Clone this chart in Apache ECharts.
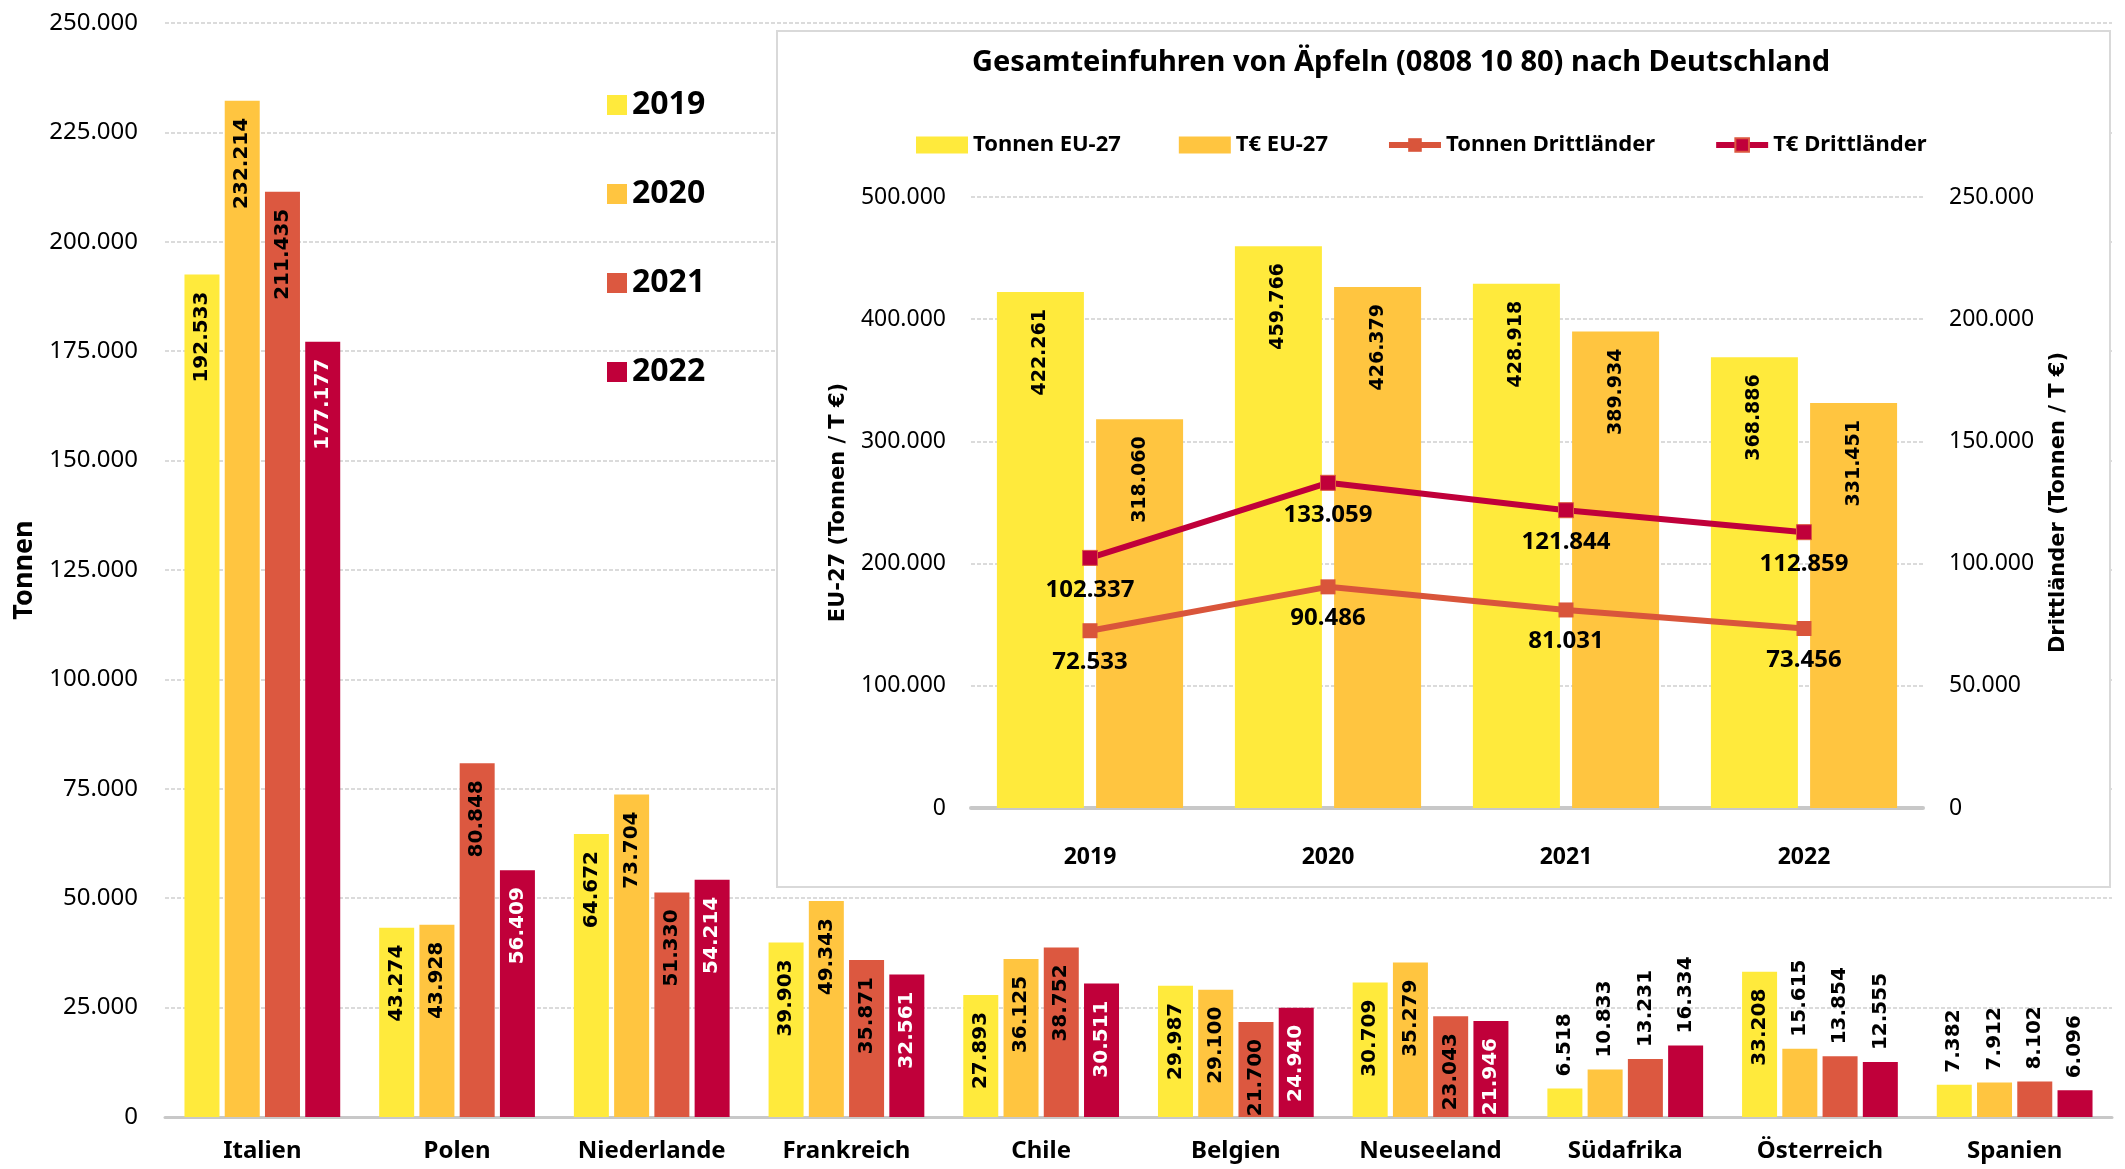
<!DOCTYPE html>
<html lang="de">
<head>
<meta charset="UTF-8">
<title>Einfuhren Äpfel</title>
<script src="https://cdn.jsdelivr.net/npm/echarts@6/dist/echarts.min.js"></script>
<style type="text/css">
    body { margin: 0; background: #fff; }
    #main { position: absolute; left: 0; top: 0; width: 2125px; height: 1169px; }
    #inset {
        position: absolute; left: 776px; top: 30px; width: 1331px; height: 854px;
        background: #fff; border: 2px solid #d9d9d9;
    }
</style>
</head>
<body>
<div id="main"></div>
<div id="inset"></div>
<script type="text/javascript">
// Länder (Hauptdiagramm)
var countries = ['Italien', 'Polen', 'Niederlande', 'Frankreich', 'Chile', 'Belgien', 'Neuseeland', 'Südafrika', 'Österreich', 'Spanien'];
var years = ['2019', '2020', '2021', '2022'];
var t2019 = [192533, 43274, 64672, 39903, 27893, 29987, 30709, 6518, 33208, 7382];
var t2020 = [232214, 43928, 73704, 49343, 36125, 29100, 35279, 10833, 15615, 7912];
var t2021 = [211435, 80848, 51330, 35871, 38752, 21700, 23043, 13231, 13854, 8102];
var t2022 = [177177, 56409, 54214, 32561, 30511, 24940, 21946, 16334, 12555, 6096];
var yearColors = ['#ffea3c', '#ffc540', '#dc5840', '#c0003a'];

// Gesamteinfuhren (Einsatz)
var insetYears = ['2019', '2020', '2021', '2022'];
var tonnenEU = [422261, 459766, 428918, 368886];
var teuroEU = [318060, 426379, 389934, 331451];
var tonnenDritt = [72533, 90486, 81031, 73456];
var teuroDritt = [102337, 133059, 121844, 112859];

var sans = "'Noto Sans', 'Open Sans', sans-serif";
var wide = "'DejaVu Sans', Verdana, sans-serif";

// Tausenderpunkt wie im Original
function fmt(v) {
    return String(Math.round(v)).replace(/\B(?=(\d{3})+(?!\d))/g, '.');
}

// Balkenwerte: innen oben, bei kleinen Balken oberhalb
function barData(values, idx) {
    return values.map(function (v) {
        var inside = v >= 20000;
        return {
            value: v,
            label: {
                position: inside ? 'insideTop' : 'top',
                align: inside ? 'right' : 'left',
                distance: inside ? 17 : 12,
                color: (inside && idx === 3) ? '#fff' : '#000'
            }
        };
    });
}

var mainChart = echarts.init(document.getElementById('main'));
var allYears = [t2019, t2020, t2021, t2022];
var mainSeries = [];
for (var i = 0; i < years.length; i++) {
    mainSeries.push({
        name: years[i],
        type: 'bar',
        barWidth: 35,
        barGap: '15%',
        itemStyle: { color: yearColors[i] },
        label: {
            show: true,
            rotate: 90,
            verticalAlign: 'middle',
            fontFamily: wide,
            fontWeight: 'bold',
            fontSize: 20,
            formatter: function (p) { return fmt(p.value); }
        },
        data: barData(allYears[i], i)
    });
}

mainChart.setOption({
    animation: false,
    color: yearColors,
    legend: {
        orient: 'vertical',
        left: 602,
        top: 84,
        itemWidth: 20,
        itemHeight: 20,
        itemGap: 57,
        icon: 'rect',
        textStyle: { fontFamily: sans, fontWeight: 'bold', fontSize: 32, lineHeight: 32, color: '#000' },
        data: years
    },
    grid: { left: 165, right: 13, top: 23, bottom: 52, outerBoundsMode: 'none' },
    xAxis: {
        type: 'category',
        data: countries,
        axisTick: { show: false },
        axisLine: { lineStyle: { color: '#c8c8c8', width: 3 } },
        axisLabel: { margin: 22, fontFamily: sans, fontWeight: 'bold', fontSize: 24, color: '#000' }
    },
    yAxis: {
        type: 'value',
        min: 0,
        max: 250000,
        interval: 25000,
        name: 'Tonnen',
        nameLocation: 'middle',
        nameRotate: 90,
        nameGap: 124,
        nameTextStyle: { fontFamily: sans, fontWeight: 'bold', fontSize: 27, color: '#000' },
        axisLabel: { margin: 27, fontFamily: sans, fontSize: 24, color: '#000', formatter: fmt },
        splitLine: { lineStyle: { color: '#cfcfcf', type: [4, 2], width: 1.5 } }
    },
    series: mainSeries
});

// Einsatz-Diagramm
var insetChart = echarts.init(document.getElementById('inset'));

function insetBarLabel() {
    return {
        show: true,
        position: 'insideTop',
        rotate: 90,
        align: 'right',
        verticalAlign: 'middle',
        distance: 17,
        fontFamily: wide,
        fontWeight: 'bold',
        fontSize: 19,
        color: '#000',
        formatter: function (p) { return fmt(p.value); }
    };
}

function lineLabel() {
    return {
        show: true,
        position: 'bottom',
        distance: 12,
        fontFamily: sans,
        fontWeight: 'bold',
        fontSize: 24,
        color: '#000',
        formatter: function (p) { return fmt(p.value); }
    };
}

insetChart.setOption({
    animation: false,
    title: {
        text: 'Gesamteinfuhren von Äpfeln (0808 10 80) nach Deutschland',
        left: 189,
        top: 11,
        textStyle: { fontFamily: sans, fontWeight: 'bold', fontSize: 29, color: '#000' }
    },
    legend: {
        left: 133,
        top: 97,
        itemWidth: 52,
        itemHeight: 17,
        itemGap: 58,
        lineStyle: { width: 6 },
        textStyle: { fontFamily: sans, fontWeight: 'bold', fontSize: 22, color: '#000' },
        data: [
            { name: 'Tonnen EU-27', icon: 'rect' },
            { name: 'T€ EU-27', icon: 'rect' },
            'Tonnen Drittländer',
            'T€ Drittländer'
        ]
    },
    grid: { left: 193, right: 186, top: 165, bottom: 78, outerBoundsMode: 'none' },
    xAxis: {
        type: 'category',
        data: insetYears,
        axisTick: { show: false },
        axisLine: { lineStyle: { color: '#c8c8c8', width: 4 } },
        axisLabel: { margin: 38, fontFamily: sans, fontWeight: 'bold', fontSize: 23, color: '#000' }
    },
    yAxis: [{
        type: 'value',
        min: 0,
        max: 500000,
        interval: 100000,
        name: 'EU-27 (Tonnen / T €)',
        nameLocation: 'middle',
        nameRotate: 90,
        nameGap: 122,
        nameTextStyle: { fontFamily: wide, fontWeight: 'bold', fontSize: 21, color: '#000' },
        axisLabel: { margin: 25, fontFamily: sans, fontSize: 23, color: '#000', formatter: fmt },
        splitLine: { lineStyle: { color: '#cfcfcf', type: [4, 2], width: 1.5 } }
    }, {
        type: 'value',
        min: 0,
        max: 250000,
        interval: 50000,
        position: 'right',
        name: 'Drittländer (Tonnen / T €)',
        nameLocation: 'middle',
        nameRotate: 90,
        nameGap: 125,
        nameTextStyle: { fontFamily: wide, fontWeight: 'bold', fontSize: 21, color: '#000' },
        axisLabel: { margin: 26, fontFamily: sans, fontSize: 23, color: '#000', formatter: fmt },
        splitLine: { show: false }
    }],
    series: [{
        name: 'Tonnen EU-27',
        type: 'bar',
        barWidth: 87,
        barGap: '14%',
        itemStyle: { color: '#ffea3c' },
        label: insetBarLabel(),
        data: tonnenEU
    }, {
        name: 'T€ EU-27',
        type: 'bar',
        barWidth: 87,
        itemStyle: { color: '#ffc540' },
        label: insetBarLabel(),
        data: teuroEU
    }, {
        name: 'Tonnen Drittländer',
        type: 'line',
        yAxisIndex: 1,
        symbol: 'rect',
        symbolSize: 15,
        lineStyle: { color: '#d9553b', width: 6 },
        itemStyle: { color: '#d9553b' },
        label: lineLabel(),
        data: tonnenDritt
    }, {
        name: 'T€ Drittländer',
        type: 'line',
        yAxisIndex: 1,
        symbol: 'rect',
        symbolSize: 15,
        lineStyle: { color: '#c0003a', width: 6 },
        itemStyle: { color: '#c0003a', borderColor: '#dc5840', borderWidth: 1 },
        label: lineLabel(),
        data: teuroDritt
    }]
});
</script>
</body>
</html>
